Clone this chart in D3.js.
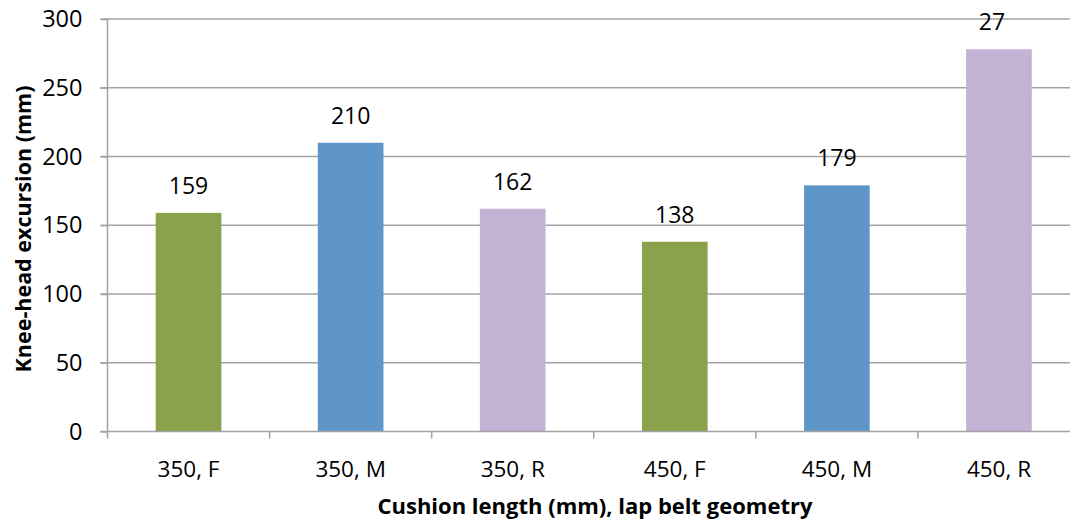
<!DOCTYPE html>
<html><head><meta charset="utf-8">
<script src="https://cdn.jsdelivr.net/npm/d3@7"></script>
<style>
html,body{margin:0;padding:0;background:#fff;overflow:hidden;}
svg{display:block;font-family:"Open Sans",sans-serif;}
</style></head>
<body>
<svg id="c" width="1070" height="523"></svg>
<script>
const categories = ["350, F","350, M","350, R","450, F","450, M","450, R"];
const values = [159, 210, 162, 138, 179, 278];
const valueLabels = ["159","210","162","138","179","27"];
const yTicks = [0, 50, 100, 150, 200, 250, 300];
const colors = ["#8AA24B","#5E96C8","#C2B3D5","#8AA24B","#5E96C8","#C2B3D5"];
const yTitle = "Knee-head excursion (mm)";
const xTitle = "Cushion length (mm), lap belt geometry";

const FONT = "'Open Sans',sans-serif";
const svg = d3.select("#c");
const mLeft = 107.5, mRight = 1080, mTop = 19, mBottom = 431.5;

const x = d3.scaleBand().domain(categories).range([mLeft, mRight]).padding(0);
const y = d3.scaleLinear().domain([0, 300]).range([mBottom, mTop]);

// gridlines
svg.append("g").selectAll("line").data(yTicks.filter(d => d > 0)).join("line")
  .attr("x1", mLeft - 7).attr("x2", 1070)
  .attr("y1", d => y(d)).attr("y2", d => y(d))
  .attr("stroke", "#A3A3A3").attr("stroke-width", 1.5);

// bars
const bw = x.bandwidth() * 0.405;
svg.append("g").selectAll("rect").data(values).join("rect")
  .attr("x", (d, i) => x(categories[i]) + x.bandwidth() / 2 - bw / 2)
  .attr("width", bw)
  .attr("y", d => y(d))
  .attr("height", d => y(0) - y(d))
  .attr("fill", (d, i) => colors[i]);

// y axis
const ya = svg.append("g").attr("transform", `translate(${mLeft},0)`)
  .call(d3.axisLeft(y).tickValues(yTicks).tickSize(7).tickPadding(18).tickFormat(d3.format("d")));
ya.select(".domain").attr("stroke", "#A3A3A3").attr("stroke-width", 1.5).attr("d", `M0,${mTop}V${mBottom}`);
ya.selectAll(".tick line").attr("stroke", "#A3A3A3").attr("stroke-width", 1.5);
ya.selectAll(".tick text").attr("font-size", 23.5).attr("fill", "#000").attr("font-family", FONT);

// x axis
const xa = svg.append("g").attr("transform", `translate(0,${mBottom})`);
xa.append("line").attr("x1", mLeft - 7).attr("x2", 1070).attr("y1", 0).attr("y2", 0)
  .attr("stroke", "#A3A3A3").attr("stroke-width", 1.5);
const bounds = categories.map(c => x(c)).concat([mRight]);
xa.selectAll("line.tk").data(bounds).join("line").attr("class", "tk")
  .attr("x1", d => d).attr("x2", d => d).attr("y1", 0).attr("y2", 7)
  .attr("stroke", "#A3A3A3").attr("stroke-width", 1.5);
xa.selectAll("text").data(categories).join("text")
  .attr("x", d => x(d) + x.bandwidth() / 2).attr("y", 45.5)
  .attr("text-anchor", "middle").attr("font-size", 22.5).attr("fill", "#000")
  .text(d => d);

// value labels
svg.append("g").selectAll("text").data(values).join("text")
  .attr("x", (d, i) => x(categories[i]) + x.bandwidth() / 2 - (i === 5 ? 7 : 0))
  .attr("y", d => y(d) - 19)
  .attr("text-anchor", "middle").attr("font-size", 23).attr("fill", "#000")
  .text((d, i) => valueLabels[i]);

// titles
svg.append("text").attr("transform", `translate(31,229) rotate(-90)`)
  .attr("text-anchor", "middle").attr("font-size", 21.5).attr("font-weight", "bold")
  .text(yTitle);
svg.append("text").attr("x", 595).attr("y", 514)
  .attr("text-anchor", "middle").attr("font-size", 22).attr("font-weight", "bold")
  .text(xTitle);
</script>
</body></html>
